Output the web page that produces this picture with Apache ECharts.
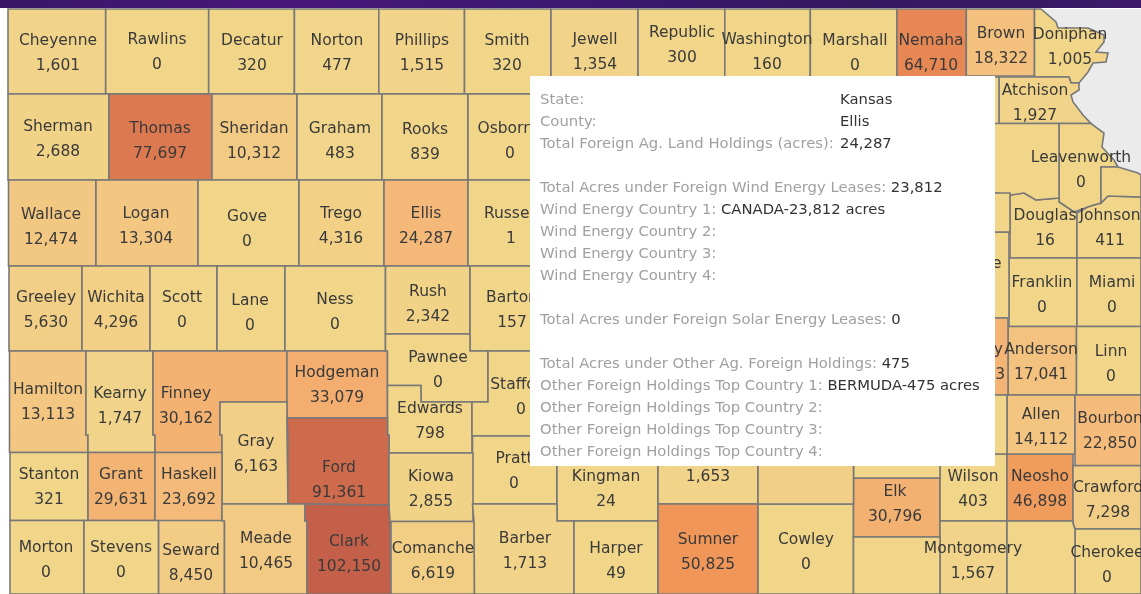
<!DOCTYPE html>
<html>
<head>
<meta charset="utf-8">
<style>html,body{margin:0;padding:0;background:#fff}#c{width:1141px;height:594px}</style>
<script src="https://cdn.jsdelivr.net/npm/echarts@6/dist/echarts.min.js"></script>
</head>
<body>
<div id="c"></div>
<script>
// County names and total foreign ag. land holdings (acres)
const COUNTY_NAMES = ['Cheyenne','Rawlins','Decatur','Norton','Phillips','Smith','Jewell','Republic','Washington','Marshall','Nemaha','Brown','Doniphan',
 'Sherman','Thomas','Sheridan','Graham','Rooks','Osborne',
 'Wallace','Logan','Gove','Trego','Ellis','Russell',
 'Greeley','Wichita','Scott','Lane','Ness','Rush','Barton',
 'Hamilton','Kearny','Finney','Hodgeman','Pawnee','Edwards','Stafford','Gray','Ford','Pratt',
 'Stanton','Grant','Haskell','Kiowa','Kingman','Sedgwick',
 'Morton','Stevens','Seward','Meade','Clark','Comanche','Barber','Harper','Sumner','Cowley','Elk','Wilson','Neosho','Crawford','Cherokee','Montgomery',
 'Atchison','Leavenworth','Douglas','Johnson','Franklin','Miami','Anderson','Linn','Allen','Bourbon','Osage','Coffey'];
const COUNTY_ACRES = [1601,0,320,477,1515,320,1354,300,160,0,64710,18322,1005,
 2688,77697,10312,483,839,0,
 12474,13304,0,4316,24287,1,
 5630,4296,0,0,0,2342,157,
 13113,1747,30162,33079,0,798,0,6163,91361,0,
 321,29631,23692,2855,24,1653,
 0,0,8450,10465,102150,6619,1713,49,50825,0,30796,403,46898,7298,0,1567,
 1927,0,16,411,0,0,17041,0,14112,22850,0,28563];
// Counties drawn without a label in the picture (values estimated from their fill)
const UNLABELED_NAMES = ['Jackson','Jefferson','Wyandotte','Shawnee','Greenwood','Woodson','Butler','Chautauqua','Labette'];
const UNLABELED_ACRES = [500,400,300,900,1200,1000,6000,900,1000];

const TIP_HEAD_LABELS = ['State:','County:','Total Foreign Ag. Land Holdings (acres):'];
const TIP_HEAD_VALUES = ['Kansas','Ellis','24,287'];
const TIP_LABELS = ['Total Acres under Foreign Wind Energy Leases:','Wind Energy Country 1:','Wind Energy Country 2:','Wind Energy Country 3:','Wind Energy Country 4:',
 'Total Acres under Foreign Solar Energy Leases:',
 'Total Acres under Other Ag. Foreign Holdings:','Other Foreign Holdings Top Country 1:','Other Foreign Holdings Top Country 2:','Other Foreign Holdings Top Country 3:','Other Foreign Holdings Top Country 4:'];
const TIP_VALUES = ['23,812','CANADA-23,812 acres','','','','0','475','BERMUDA-475 acres','','',''];
const TIP_ROWS = [188.5,210.5,232.5,254.5,276.5,320.5,364.5,386.5,408.5,430.5,452.5];
const TIP_HEAD_ROWS = [100.5,122.5,144.5];

// Map geometry, in picture pixels
const box = (a,b,c,d) => [[a,b],[c,b],[c,d],[a,d]];
const OUTLINES = {
 Cheyenne:box(8,9,105.7,94),Rawlins:box(105.7,9,208.7,94),Decatur:box(208.7,9,294.4,94),Norton:box(294.4,9,378.8,94),Phillips:box(378.8,9,464.5,94),Smith:box(464.5,9,551,94),
 Jewell:box(551,9,638,94),Republic:box(638,9,724.8,94),Washington:box(724.8,9,810.3,94),Marshall:box(810.3,9,897,94),Nemaha:box(897,9,966.3,94),Brown:box(966.3,9,1034.5,76),
 Doniphan:[[1034.5,9],[1041,9],[1056,22],[1058,28],[1088,28],[1104,35],[1104,42],[1096,52],[1108,53],[1106,62],[1093,63],[1088,72],[1079,83],[1071,83],[1069,77],[1034.5,77]],
 Sherman:box(8,94,109,180),Thomas:box(109,94,212,180),Sheridan:box(212,94,297,180),Graham:box(297,94,382,180),Rooks:box(382,94,468,180),Osborne:box(468,94,555,180),
 Wallace:box(8.5,180,96,266),Logan:box(96,180,198,266),Gove:box(198,180,299,266),Trego:box(299,180,384,266),Ellis:box(384,180,468,266),Russell:box(468,180,555,266),
 Greeley:box(9,266,82,351),Wichita:box(82,266,150,351),Scott:box(150,266,217,351),Lane:box(217,266,285,351),Ness:box(285,266,385.5,351),Rush:box(385.5,266,470,334),Barton:box(470,266,560,351),
 Hamilton:[[9.5,351],[86,351],[86,435],[88,435],[88,452.5],[9.5,452.5]],
 Kearny:[[86,351],[153,351],[153,435],[155,435],[155,452.5],[88,452.5],[88,435],[86,435]],
 Finney:[[153,351],[287,351],[287,402],[220,402],[220,435],[222,435],[222,452.5],[155,452.5],[155,435],[153,435]],
 Hodgeman:box(287,351,387.5,418),
 Pawnee:[[385.5,334],[470,334],[470,351],[488,351],[488,402],[421,402],[421,385.5],[387.5,385.5],[387.5,351],[385.5,351]],
 Edwards:[[387.5,385.5],[421,385.5],[421,402],[472,402],[472,453],[389,453],[389,435],[387.5,435]],
 Stafford:[[488,351],[560,351],[560,436],[472,436],[472,402],[488,402]],
 Gray:[[220,402],[287,402],[287,435],[288,435],[288,504],[222,504],[222,435],[220,435]],
 Ford:[[287,418],[387.5,418],[387.5,435],[389,435],[389,505],[288,504],[288,435],[287,435]],
 Pratt:box(472.5,436,557,504),
 Stanton:box(10,452.5,88,520.5),Grant:box(88,452.5,155,520.5),Haskell:box(155,452.5,222,521),Kiowa:box(389,453,473,521.5),
 Kingman:box(557,436,658,521),Sedgwick:box(658,436,758,504),Butler:box(758,400,853.5,504),Greenwood:box(853.5,400,940,478),Elk:box(853.5,478,940,537),
 Woodson:box(940,395,1007,454),Wilson:box(940,454,1007,521),Neosho:box(1007,454,1073,521),
 Crawford:[[1073,465.5],[1141,465.5],[1141,529],[1075,529],[1073,523]],Cherokee:box(1075,529,1141,594),
 Montgomery:box(940,521,1007,594),Labette:[[1007,521],[1073,521],[1073,523],[1075,529],[1075,594],[1007,594]],Chautauqua:box(853.5,537,940,594),
 Morton:box(10,520.5,84,594),Stevens:box(84,520.5,158.6,594),Seward:box(158.6,520.5,224.5,594),
 Meade:[[222,504],[305,504],[305,521],[307,521],[307,594],[224.5,594],[224.5,521],[222,521]],
 Clark:[[305,504],[389,505],[390,521.5],[391,594],[307,594],[307,521],[305,521]],
 Comanche:box(391,521.5,474.5,594),
 Barber:[[472.5,504],[557,504],[557,521],[574,521],[574,594],[474.5,594],[474,521.5],[473,521.5]],
 Harper:box(574,521,658,594),Sumner:box(658,504,758,594),Cowley:box(758,504,853.5,594),
 Jackson:box(900,77,999,124),
 Atchison:[[999,77],[1069,77],[1071,83],[1079,83],[1079,90],[1071,95],[1073,102],[1083,115],[1091,123.5],[999,123.5]],
 Jefferson:[[900,123.5],[1059,123.5],[1059,198],[1036,200],[1024,193],[1011,195],[996,193],[900,193]],
 Leavenworth:[[1059,123.5],[1091,123.5],[1104,133],[1102,147],[1114,160],[1118,167],[1101,167],[1101,203],[1088,207],[1074,212],[1059,202]],
 Wyandotte:[[1101,167],[1118,167],[1138,173],[1141,175],[1141,197],[1108,196],[1101,203]],
 Johnson:[[1101,203],[1108,196],[1141,197],[1141,258],[1077,258],[1077,213],[1088,207]],
 Douglas:[[1010,195],[1024,193],[1036,200],[1059,198],[1059,202],[1074,212],[1077,213],[1077,258],[1010,258]],
 Shawnee:box(900,193,1010,232),Osage:box(900,232,1009,318),Coffey:box(900,318,1008,395),
 Franklin:box(1009,258,1077,326.5),Miami:box(1077,258,1141,326.5),Anderson:box(1008,326.5,1076.5,395),Linn:box(1076.5,326.5,1141,395),
 Allen:box(1007,395,1075,454),Bourbon:box(1075,395,1141,465.5)
};
const LABEL_POINTS = {
 Cheyenne:[58,53],Rawlins:[157,52],Decatur:[252,53],Norton:[337,53],Phillips:[422,53],Smith:[507,53],Jewell:[595,52],Republic:[682,45],Washington:[767,52],Marshall:[855,53],Nemaha:[931,53],Brown:[1001,46],Doniphan:[1070,47],
 Sherman:[58,139],Thomas:[160,141],Sheridan:[254,141],Graham:[340,141],Rooks:[425,142],Osborne:[510,141],
 Wallace:[51,227],Logan:[146,226],Gove:[247,229],Trego:[341,226],Ellis:[426,226],Russell:[511,226],
 Greeley:[46,310],Wichita:[116,310],Scott:[182,310],Lane:[250,313],Ness:[335,312],Rush:[428,304],Barton:[512,310],
 Hamilton:[48,402],Kearny:[120,406],Finney:[186,406],Hodgeman:[337,385],Pawnee:[438,370],Edwards:[430,421],Stafford:[521,397],Gray:[256,454],Ford:[339,480],Pratt:[514,471],
 Stanton:[49,487],Grant:[121,487],Haskell:[189,487],Kiowa:[431,489],Kingman:[606,489],Sedgwick:[708,464],
 Morton:[46,560],Stevens:[121,560],Seward:[191,563],Meade:[266,551],Clark:[349,554],Comanche:[433,561],Barber:[525,551],Harper:[616,561],Sumner:[708,552],Cowley:[806,552],Elk:[895,504],
 Wilson:[973,489],Neosho:[1040,489],Crawford:[1108,500],Cherokee:[1107,565],Montgomery:[973,561],
 Atchison:[1035,103],Leavenworth:[1081,170],Douglas:[1045,228],Johnson:[1110,228],Franklin:[1042,295],Miami:[1112,295],Anderson:[1041,362],Linn:[1111,364],Allen:[1041,427],Bourbon:[1110,431],Osage:[977,276],Coffey:[978,362]
};

const H = 594;
const flip = p => [p[0], H - p[1]];
const allNames = COUNTY_NAMES.concat(UNLABELED_NAMES);
const geojson = {type:'FeatureCollection',features:allNames.map(n => {
  const ring = OUTLINES[n].map(flip); ring.push(ring[0]);
  const lp = LABEL_POINTS[n] || [OUTLINES[n][0][0]+10, OUTLINES[n][0][1]+10];
  return {type:'Feature',properties:{name:n,cp:flip(lp)},geometry:{type:'Polygon',coordinates:[ring]}};
})};
echarts.registerMap('kansas', geojson);

const seriesData = COUNTY_NAMES.map((n,i)=>({name:n,value:COUNTY_ACRES[i]}))
  .concat(UNLABELED_NAMES.map((n,i)=>({name:n,value:UNLABELED_ACRES[i],label:{show:false}})));

const GREY='#a0a0a0', INK='#333333', TIPFONT='"DejaVu Sans"', TIPSIZE=14.8;
const tipEls = [];
TIP_HEAD_LABELS.forEach((t,i)=>{
  tipEls.push({type:'text',z:101,x:540,y:TIP_HEAD_ROWS[i],style:{text:t,fill:GREY,font:TIPSIZE+'px '+TIPFONT,verticalAlign:'middle'}});
  tipEls.push({type:'text',z:101,x:840,y:TIP_HEAD_ROWS[i],style:{text:TIP_HEAD_VALUES[i],fill:INK,font:TIPSIZE+'px '+TIPFONT,verticalAlign:'middle'}});
});
TIP_LABELS.forEach((t,i)=>{
  tipEls.push({type:'text',z:101,x:540,y:TIP_ROWS[i],style:{
    text:'{k|'+t+' }{v|'+TIP_VALUES[i]+'}',verticalAlign:'middle',
    rich:{k:{fill:GREY,font:TIPSIZE+'px '+TIPFONT},v:{fill:INK,font:TIPSIZE+'px '+TIPFONT}}}});
});

const chart = echarts.init(document.getElementById('c'),null,{renderer:'canvas'});
chart.setOption({
  animation:false,
  backgroundColor:'#ffffff',
  visualMap:{show:false,type:'continuous',min:0,max:102150,seriesIndex:0,
    inRange:{color:['#f1d68a','#f4b878','#ef9658','#de7a50','#c4604a']}},
  graphic:[
    {type:'rect',z:0,shape:{x:1034,y:9,width:107,height:220},style:{fill:'#ebebeb'}},
    {type:'text',z:50,x:450,y:-10,style:{text:'States',fill:'rgba(120,120,120,0.14)',font:'bold 26px "DejaVu Sans"'}},
    {type:'rect',z:60,shape:{x:0,y:0,width:1141,height:8},style:{fill:{type:'linear',x:0,y:0,x2:1,y2:0,colorStops:[
      {offset:0,color:'#3a1766'},{offset:.25,color:'#47167a'},{offset:.5,color:'#3c1870'},{offset:.75,color:'#34185e'},{offset:1,color:'#3c1a68'}]}}},
    {type:'rect',z:100,shape:{x:530,y:76,width:465,height:390},style:{fill:'#ffffff'}}
  ].concat(tipEls),
  series:[{
    type:'map',map:'kansas',roam:false,silent:true,z:2,
    aspectScale:1,boundingCoords:[[0,H],[1141,0]],left:0,top:0,width:1141,height:594,
    selectedMode:false,
    label:{show:true,color:'#3a3a3a',fontFamily:'"DejaVu Sans"',fontSize:15.5,lineHeight:25,align:'center',verticalAlign:'middle',
      formatter:p=>p.name+'\n'+Number(p.value).toLocaleString('en-US')},
    itemStyle:{borderColor:'#787878',borderWidth:1.6},
    emphasis:{disabled:true},
    data:seriesData
  }]
});
</script>
</body>
</html>
